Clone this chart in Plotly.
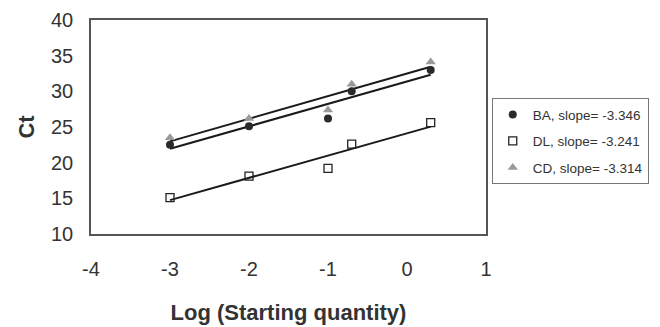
import numpy as np
import plotly.graph_objects as go

log_qty = [-3, -2, -1, -0.7, 0.3]
ba_ct = [22.5, 25.1, 26.2, 30.0, 33.0]
dl_ct = [15.1, 18.1, 19.2, 22.6, 25.6]
cd_ct = [23.5, 26.2, 27.4, 31.0, 34.1]
series_names = ["BA, slope= -3.346", "DL, slope= -3.241", "CD, slope= -3.314"]
x_ticks = [-4, -3, -2, -1, 0, 1]
y_ticks = [10, 15, 20, 25, 30, 35, 40]

fig = go.Figure()

series = [
    (series_names[0], ba_ct, dict(symbol="circle", size=8, color="#2a2a2a", line=dict(width=0))),
    (series_names[1], dl_ct, dict(symbol="square-open", size=8, color="#222222", line=dict(width=1.3))),
    (series_names[2], cd_ct, dict(symbol="triangle-up", size=9, color="#9a9a9a", line=dict(width=0))),
]

x_arr = np.array(log_qty, dtype=float)
for i, (name, ys, mk) in enumerate(series):
    coef = np.polyfit(x_arr, np.array(ys, dtype=float), 1)
    xl = [min(log_qty), max(log_qty)]
    yl = [coef[0] * v + coef[1] for v in xl]
    fig.add_trace(go.Scatter(x=xl, y=yl, mode="lines", line=dict(color="#1a1a1a", width=2),
                             showlegend=False, hoverinfo="skip"))

order = [2, 0, 1]
for i in order:
    name, ys, mk = series[i]
    fig.add_trace(go.Scatter(x=log_qty, y=ys, mode="markers", name=name, marker=mk,
                             legendgroup=name, legendrank=i + 1))

axis_font = dict(family="Liberation Sans, Arial, sans-serif", size=20, color="#333333")
fig.update_layout(
    width=652, height=319,
    margin=dict(l=83, r=173, t=12, b=93),
    paper_bgcolor="white", plot_bgcolor="white",
    font=dict(family="Liberation Sans, Arial, sans-serif", color="#333333"),
    xaxis=dict(range=[-4, 1], tickvals=x_ticks, ticktext=[str(v) for v in x_ticks],
               showgrid=False, zeroline=False, showline=True, mirror=True, automargin=False,
               linecolor="#555555", linewidth=1.5, ticks="", tickfont=axis_font,
               ticklabelstandoff=16, ticklabeloverflow="allow",
               title=dict(text="<b>Log (Starting quantity)</b>", font=dict(size=22, color="#333333"), standoff=26)),
    yaxis=dict(range=[10, 40], tickvals=y_ticks, showgrid=False, zeroline=False, automargin=False,
               showline=True, mirror=True, linecolor="#555555", linewidth=1.5, ticks="",
               tickfont=axis_font, ticklabelstandoff=12, ticklabeloverflow="allow",
               title=dict(text="<b>Ct</b>", font=dict(size=22, color="#333333"), standoff=10)),
    legend=dict(x=1.012, y=0.434, xanchor="left", yanchor="middle",
                bordercolor="#777777", borderwidth=1, bgcolor="white",
                font=dict(size=13.5, color="#333333"), tracegroupgap=6,
                itemwidth=30, traceorder="grouped"),
    showlegend=True,
)

fig.write_html("out.html")
